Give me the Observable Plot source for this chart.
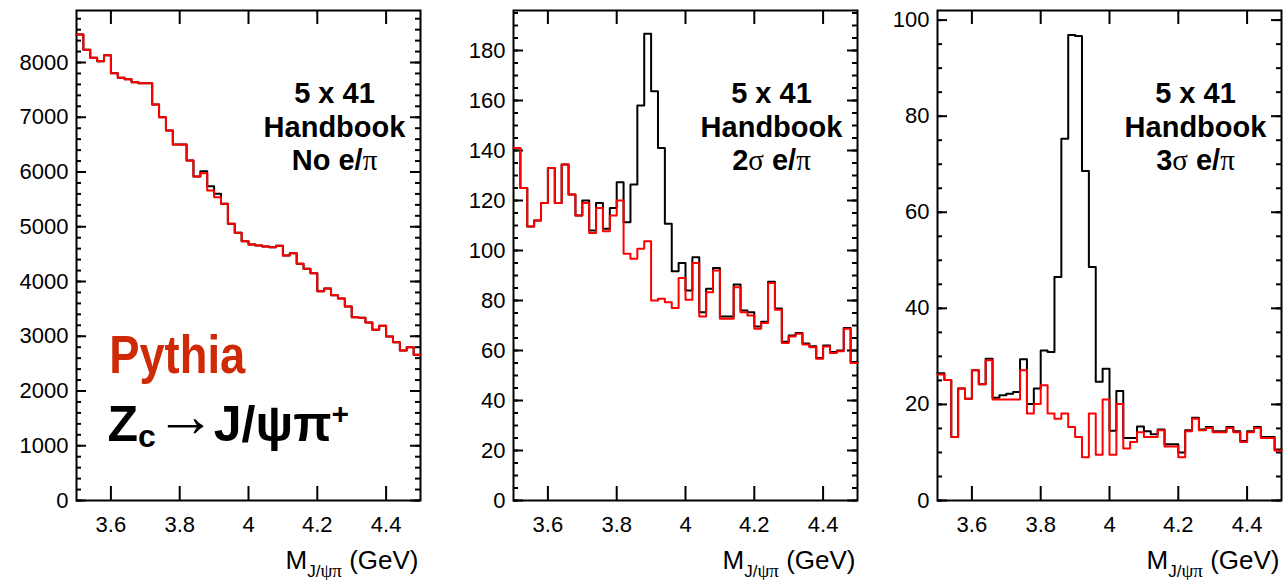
<!DOCTYPE html>
<html><head><meta charset="utf-8">
<script src="https://cdn.jsdelivr.net/npm/d3@7"></script>
<script src="https://cdn.jsdelivr.net/npm/@observablehq/plot@0.6"></script>
<style>
body{margin:0;background:#fff;}
#root{position:relative;width:1283px;height:580px;overflow:hidden;background:#fff;}
.panel{position:absolute;top:0;}
</style></head><body><div id="root"></div>
<script>
// bin low edges (GeV), 0.02 GeV bins from 3.5 to 4.5
const xLow = [3.50,3.52,3.54,3.56,3.58,3.60,3.62,3.64,3.66,3.68,3.70,3.72,3.74,3.76,3.78,3.80,3.82,3.84,3.86,3.88,
  3.90,3.92,3.94,3.96,3.98,4.00,4.02,4.04,4.06,4.08,4.10,4.12,4.14,4.16,4.18,4.20,4.22,4.24,4.26,4.28,
  4.30,4.32,4.34,4.36,4.38,4.40,4.42,4.44,4.46,4.48];
const xHigh = 4.5;
const xTickLabels = [3.6, 3.8, 4, 4.2, 4.4];

// Panel 1: No e/pi
const p1Red = [8511,8232,8085,8024,8134,7805,7720,7695,7641,7622,7622,7233,7001,6758,6502,6502,6210,5918,5978,5662,
  5540,5419,5053,4890,4737,4676,4658,4639,4627,4652,4475,4517,4323,4232,4152,3823,3872,3750,3689,3543,
  3348,3337,3251,3117,3190,2995,2892,2740,2800,2661];
const p1Black = [8511,8232,8085,8024,8134,7805,7720,7695,7641,7622,7622,7233,7001,6758,6502,6502,6210,5918,6015,5741,
  5601,5419,5053,4890,4737,4676,4658,4639,4627,4652,4475,4517,4323,4232,4152,3823,3872,3750,3689,3543,
  3348,3337,3251,3117,3190,2995,2892,2740,2800,2661];
const p1YLabels = [0,1000,2000,3000,4000,5000,6000,7000,8000];

// Panel 2: 2 sigma e/pi
const p2Red = [141,125,109.6,112,119,133,119,134.4,122.4,114,119,107,117,107.7,114,120,98.7,96.7,100.7,103.7,
  80,80.7,79.3,77,89,80.3,95,73.6,83.3,92,72.7,72.7,85.3,75.3,74,68.7,71,87,76.3,63,
  65.6,66.7,62.4,61.3,56.7,61.6,59,59.7,68.7,55];
const p2Black = [141,125,109.6,112,119,133,119,134.4,122.4,114,120,108,119,108.7,117,127.3,111.3,126.4,158,186.7,
  163.7,141,110.7,91.7,95,84,97.3,75.3,84.7,93,73.6,73.6,86.4,76,75.3,69.6,71.5,87.5,76.8,63.5,
  66,67,62.8,61.7,57,62,59.4,60,69,55.4];
const p2YLabels = [0,20,40,60,80,100,120,140,160,180];

// Panel 3: 3 sigma e/pi
const p3Red = [26.25,25.1,13.2,23.3,21.2,27.1,24.2,29.2,21,21,21,21,27.1,18.1,20.1,24,18.1,17,18.1,15.3,
  13.2,9,18.1,9.5,21,9.5,20.1,10.8,12.2,14.2,13.2,13.2,14.6,11.25,11.25,9,14.4,17,14.6,15.1,
  14.2,14.2,15.1,14.2,12.2,14.2,15.1,13,13,10.4];
const p3Black = [26.5,25.1,13.2,23.3,21.2,27.1,24.2,29.5,21.4,21.9,22.2,22.6,29.4,20.1,23.3,31.25,30.9,46.5,75.3,96.9,
  96.7,68.6,48.6,24.7,27.4,14.5,22.8,13,13,15.4,14.4,13.8,14.8,11.7,11.7,10,14.6,17.2,14.8,15.3,
  14.4,14.4,15.3,14.4,12.4,14.4,15.3,13.2,13.2,10.6];
const p3YLabels = [0,20,40,60,80,100];

const titleLines = ["5 x 41", "Handbook"];
const cutLabels = ["No e/π", "2σ e/π", "3σ e/π"];
const axisTitle = "MJ/ψπ (GeV)";
const generatorLabel = "Pythia";
const channelLabel = "Zc→J/ψπ+";

const SANS = "'Liberation Sans', Arial, Helvetica, sans-serif";
const SERIF = "'Liberation Serif', 'Times New Roman', serif";

function hist(vals) {
  return vals.map((v, i) => ({x: xLow[i], y: v})).concat([{x: xHigh, y: vals[vals.length - 1]}]);
}

function makePanel(cfg) {
  const plotW = 344, plotH = 490;
  const block = titleLines.concat([cfg.cut]).join("\n");
  const marks = [
    Plot.frame({stroke: "black", strokeWidth: 2}),
    Plot.tickY(cfg.yMinor, {y: d => d, stroke: "black", strokeWidth: 2, insetRight: plotW - 5}),
    Plot.tickY(cfg.yMinor, {y: d => d, stroke: "black", strokeWidth: 2, insetLeft: plotW - 5}),
    Plot.tickY(cfg.yLabels, {y: d => d, stroke: "black", strokeWidth: 2, insetRight: plotW - 10}),
    Plot.tickY(cfg.yLabels, {y: d => d, stroke: "black", strokeWidth: 2, insetLeft: plotW - 10}),
    Plot.tickX(xTickLabels, {x: d => d, stroke: "black", strokeWidth: 2, insetTop: plotH - 14}),
    Plot.tickX(xTickLabels, {x: d => d, stroke: "black", strokeWidth: 2, insetBottom: plotH - 14}),
    Plot.axisX(xTickLabels, {tickSize: 0, tickPadding: 16, tickFormat: d => String(d), fontSize: 22}),
    Plot.axisY(cfg.yLabels, {tickSize: 0, tickPadding: 8, tickFormat: d => String(d), fontSize: 22}),
    Plot.line(hist(cfg.black), {x: "x", y: "y", curve: "step-after", stroke: "black", strokeWidth: 2}),
    Plot.line(hist(cfg.red), {x: "x", y: "y", curve: "step-after", stroke: "#ff0000", strokeWidth: 2}),
    Plot.text([block], {x: 4.25, frameAnchor: "top", dy: 72, lineAnchor: "top", text: d => d, fontSize: 29, fontWeight: "bold", textAnchor: "middle"}),
    Plot.text([axisTitle], {frameAnchor: "bottom-right", dx: -2, dy: 68, lineAnchor: "bottom", textAnchor: "end", text: d => d, fontSize: 26})
  ].concat(cfg.extra || []);
  const svg = Plot.plot({
    width: cfg.marginLeft + plotW + cfg.marginRight,
    height: 580,
    marginLeft: cfg.marginLeft,
    marginRight: cfg.marginRight,
    marginTop: 10,
    marginBottom: 80,
    x: {domain: [3.5, 4.5], label: null},
    y: {domain: [0, cfg.yMax], label: null},
    style: {fontFamily: SANS, fontSize: "22px", color: "black", background: "transparent", overflow: "visible"},
    marks
  });
  const blockFlat = titleLines.join("") + cfg.cut;
  // rich text: greek letters in serif, sub/superscripts, custom line spacing
  d3.select(svg).selectAll("text").each(function() {
    const el = d3.select(this);
    const s = this.textContent;
    if (s === axisTitle) {
      el.text("");
      el.append("tspan").text("M");
      el.append("tspan").attr("font-size", 17).attr("dy", 8).text("J/");
      el.append("tspan").attr("font-size", 19).attr("font-family", SERIF).text("ψπ");
      el.append("tspan").attr("font-size", 26).attr("dy", -8).text(" (GeV)");
    } else if (s === channelLabel) {
      el.text("");
      el.append("tspan").text("Z");
      el.append("tspan").attr("font-size", 32).attr("dy", 6).text("c");
      el.append("tspan").attr("font-size", 60).attr("dx", 0).attr("dy", -11).text("→");
      el.append("tspan").attr("dx", -2).attr("dy", 5).text("J/ψπ");
      el.append("tspan").attr("font-size", 30).attr("dy", -17).text("+");
    } else if (s === generatorLabel) {
      el.attr("textLength", 136).attr("lengthAdjust", "spacingAndGlyphs");
    } else if (s === blockFlat) {
      el.text("").attr("dy", null);
      el.append("tspan").attr("x", 0).attr("dy", "0.71em").text(titleLines[0]);
      el.append("tspan").attr("x", 0).attr("dy", 34).text(titleLines[1]);
      let first = true;
      for (const part of cfg.cut.split(/([σπ])/)) {
        if (!part) continue;
        const t = el.append("tspan").text(part);
        if (first) { t.attr("x", 0).attr("dy", 33); first = false; }
        if (/[σπ]/.test(part)) t.attr("font-family", SERIF).attr("font-weight", "normal").attr("font-size", 29);
      }
    }
  });
  const div = document.createElement("div");
  div.className = "panel";
  div.style.left = cfg.left + "px";
  div.appendChild(svg);
  document.getElementById("root").appendChild(div);
}

makePanel({
  red: p1Red, black: p1Black, yMax: 8950, yLabels: p1YLabels, yMinor: d3.range(0, 8901, 200),
  cut: cutLabels[0], left: 0, marginLeft: 76, marginRight: 17,
  extra: [
    Plot.text([generatorLabel], {x: 3.595, y: 2330, lineAnchor: "bottom", textAnchor: "start", text: d => d,
      fontSize: 53, fontWeight: "bold", fill: "#cf2a07"}),
    Plot.text([channelLabel], {x: 3.59, y: 1080, lineAnchor: "bottom", textAnchor: "start", text: d => d,
      fontSize: 50, fontWeight: "bold", fill: "black"})
  ]
});
makePanel({
  red: p2Red, black: p2Black, yMax: 196, yLabels: p2YLabels, yMinor: d3.range(0, 196, 5),
  cut: cutLabels[1], left: 437, marginLeft: 76, marginRight: 5
});
makePanel({
  red: p3Red, black: p3Black, yMax: 102, yLabels: p3YLabels, yMinor: d3.range(0, 102, 5),
  cut: cutLabels[2], left: 862, marginLeft: 75, marginRight: 2
});
</script></body></html>
